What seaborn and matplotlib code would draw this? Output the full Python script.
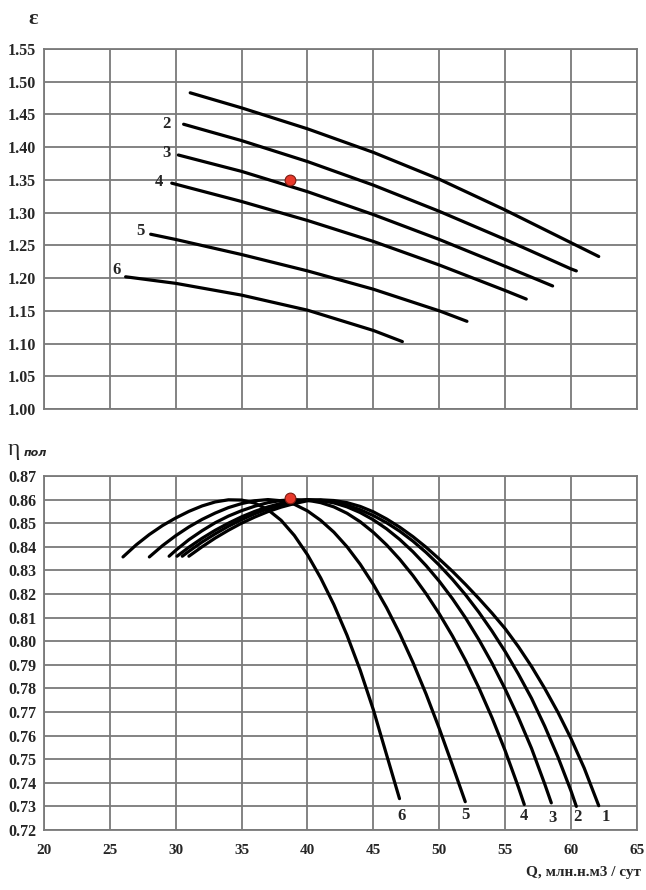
import numpy as np
import pandas as pd
import matplotlib
matplotlib.use("Agg")
import matplotlib.pyplot as plt
import seaborn as sns

# --- data ------------------------------------------------------------------
curve_ids = ["1", "2", "3", "4", "5", "6"]

# pressure ratio eps vs Q
eps_q = {
    "1": [31.1, 35, 40, 45, 50, 55, 60, 62.1],
    "2": [30.6, 35, 40, 45, 50, 55, 60, 60.4],
    "3": [30.2, 35, 40, 45, 50, 55, 58.6],
    "4": [29.7, 35, 40, 45, 50, 55, 56.6],
    "5": [28.1, 30, 35, 40, 45, 50, 52.1],
    "6": [26.2, 30, 35, 40, 45, 47.2],
}
eps_v = {
    "1": [1.483, 1.460, 1.428, 1.392, 1.351, 1.304, 1.254, 1.233],
    "2": [1.435, 1.410, 1.378, 1.342, 1.302, 1.259, 1.214, 1.211],
    "3": [1.388, 1.363, 1.332, 1.297, 1.259, 1.218, 1.188],
    "4": [1.345, 1.317, 1.288, 1.256, 1.220, 1.181, 1.168],
    "5": [1.267, 1.259, 1.236, 1.211, 1.183, 1.150, 1.134],
    "6": [1.202, 1.192, 1.174, 1.151, 1.120, 1.103],
}

# polytropic efficiency vs Q
eta_q = {
    "1": [31.0, 32, 33, 34, 35, 36, 37, 38, 39, 40, 41, 42, 43, 44, 45, 46, 47, 48, 49, 50,
          51, 52, 53, 54, 55, 56, 57, 58, 59, 60, 61, 62.1],
    "2": [30.5, 31, 32, 33, 34, 35, 36, 37, 38, 39, 40, 41, 42, 43, 44, 45, 46, 47, 48, 49,
          50, 51, 52, 53, 54, 55, 56, 57, 58, 59, 60, 60.4],
    "3": [30.1, 31, 32, 33, 34, 35, 36, 37, 38, 39, 40, 41, 42, 43, 44, 45, 46, 47, 48, 49,
          50, 51, 52, 53, 54, 55, 56, 57, 58, 58.5],
    "4": [29.5, 30, 31, 32, 33, 34, 35, 36, 37, 38, 39, 40, 41, 42, 43, 44, 45, 46, 47, 48,
          49, 50, 51, 52, 53, 54, 55, 56, 56.45],
    "5": [28.0, 29, 30, 31, 32, 33, 34, 35, 36, 37, 38, 39, 40, 41, 42, 43, 44, 45, 46, 47,
          48, 49, 50, 51, 51.97],
    "6": [26.0, 27, 28, 29, 30, 31, 32, 33, 34, 35, 36, 37, 38, 39, 40, 41, 42, 43, 44, 45,
          46, 46.98],
}
eta_v = {
    "1": [.836, .8400, .8437, .8470, .8500, .8526, .8549, .8568, .8583, .8595, .8599, .8596,
          .8587, .8571, .8548, .8518, .8483, .8443, .8398, .8348, .8296, .8240, .8181, .8119,
          .8053, .7977, .7893, .7800, .7699, .7587, .7462, .7303],
    "2": [.836, .8381, .8420, .8455, .8487, .8515, .8540, .8561, .8578, .8591, .8599, .8597,
          .8589, .8576, .8557, .8532, .8502, .8466, .8424, .8376, .8322, .8262, .8196, .8123,
          .8043, .7956, .7861, .7758, .7640, .7510, .7365, .7300],
    "3": [.836, .8398, .8436, .8470, .8500, .8527, .8550, .8569, .8584, .8594, .8600, .8596,
          .8586, .8569, .8545, .8514, .8476, .8431, .8379, .8320, .8254, .8180, .8098, .8007,
          .7907, .7797, .7677, .7546, .7395, .7315],
    "4": [.836, .8385, .8430, .8468, .8502, .8530, .8553, .8572, .8587, .8596, .8600, .8597,
          .8587, .8569, .8542, .8506, .8461, .8408, .8347, .8278, .8201, .8116, .8022, .7918,
          .7803, .7676, .7536, .7382, .7308],
    "5": [.8357, .8405, .8447, .8484, .8516, .8543, .8566, .8583, .8595, .8600, .8595, .8580,
          .8552, .8512, .8462, .8400, .8326, .8240, .8142, .8032, .7910, .7776, .7630, .7474,
          .7320],
    "6": [.8357, .8408, .8452, .8490, .8522, .8550, .8573, .8590, .8599, .8598, .8585, .8557,
          .8512, .8448, .8366, .8268, .8155, .8025, .7877, .7709, .7519, .7333],
}

# design point (red dot)
pt_q = [38.7]
pt_eps = [1.35]
pt_eta = [0.8605]

# curve-number labels
eps_lab_q = [29.3, 29.3, 28.7, 27.3, 25.5]
eps_lab_v = [1.436, 1.391, 1.347, 1.272, 1.212]
eps_lab_t = ["2", "3", "4", "5", "6"]
eta_lab_q = [62.6, 60.5, 58.6, 56.45, 52.0, 47.1]
eta_lab_v = [0.7255, 0.7255, 0.725, 0.7258, 0.7262, 0.7258]
eta_lab_t = ["1", "2", "3", "4", "5", "6"]

eps_ticks = [1.00, 1.05, 1.10, 1.15, 1.20, 1.25, 1.30, 1.35, 1.40, 1.45, 1.50, 1.55]
eta_ticks = [0.72, 0.73, 0.74, 0.75, 0.76, 0.77, 0.78, 0.79, 0.80, 0.81, 0.82, 0.83,
             0.84, 0.85, 0.86, 0.87]
q_ticks = [20, 25, 30, 35, 40, 45, 50, 55, 60, 65]

# ---------------------------------------------------------------------------
sns.set_theme(style="whitegrid")
plt.rcParams['font.family'] = ['Liberation Serif', 'DejaVu Serif']

fig = plt.figure(figsize=(6.46, 8.90), dpi=100)
ax1 = fig.add_axes([0.068, 0.5404, 0.918, 0.4046])
ax2 = fig.add_axes([0.068, 0.0674, 0.918, 0.3978])

rows_eps = []
rows_eta = []
for c in curve_ids:
    for q, v in zip(eps_q[c], eps_v[c]):
        rows_eps.append((c, q, v))
    for q, v in zip(eta_q[c], eta_v[c]):
        rows_eta.append((c, q, v))
df_eps = pd.DataFrame(rows_eps, columns=["curve", "Q", "val"])
df_eta = pd.DataFrame(rows_eta, columns=["curve", "Q", "val"])
pal = {c: "black" for c in curve_ids}

sns.lineplot(data=df_eps, x="Q", y="val", hue="curve", palette=pal, sort=False,
             linewidth=2.3, legend=False, ax=ax1, solid_joinstyle="round")
sns.lineplot(data=df_eta, x="Q", y="val", hue="curve", palette=pal, sort=False,
             linewidth=2.3, legend=False, ax=ax2, solid_joinstyle="round")
sns.scatterplot(x=pt_q, y=pt_eps, color="#e8392b", edgecolor="#7a1a10", s=60,
                linewidth=0.8, zorder=5, ax=ax1)
sns.scatterplot(x=pt_q, y=pt_eta, color="#e8392b", edgecolor="#7a1a10", s=60,
                linewidth=0.8, zorder=5, ax=ax2, clip_on=False)

for ax, ticks, lim in [(ax1, eps_ticks, (1.0, 1.55)), (ax2, eta_ticks, (0.72, 0.87))]:
    ax.set_xlim(20, 65)
    ax.set_ylim(*lim)
    ax.set_xticks(q_ticks)
    ax.set_yticks(ticks)
    ax.grid(True, color="#7a7a7a", linewidth=1.3)
    ax.set_axisbelow(True)
    for s in ax.spines.values():
        s.set_color("#7a7a7a")
        s.set_linewidth(1.3)
    ax.tick_params(axis="y", length=4, width=1.2, color="#555555", pad=1.5)
    ax.tick_params(axis="x", length=4, width=1.2, color="#555555", pad=6)
    ax.set_xlabel("")
    ax.set_ylabel("")

ax1.set_yticklabels([f"{t:.2f}" for t in eps_ticks])
ax1.set_xticklabels([])
ax1.tick_params(axis="x", length=0)
ax2.set_yticklabels([f"{t:.2f}" for t in eta_ticks])
ax2.set_xticklabels([str(t) for t in q_ticks])
for ax in (ax1, ax2):
    for lbl in ax.get_yticklabels():
        lbl.set_fontweight("bold")
        lbl.set_fontsize(11.5)
    for lbl in ax.get_xticklabels():
        lbl.set_fontweight("bold")
        lbl.set_fontsize(11)

for q, v, t in zip(eps_lab_q, eps_lab_v, eps_lab_t):
    ax1.text(q, v, t, fontsize=12, fontweight="bold", ha="center", va="center")
for q, v, t in zip(eta_lab_q, eta_lab_v, eta_lab_t):
    ax2.text(q, v, t, fontsize=12, fontweight="bold", ha="center", va="center")

fig.text(0.044, 0.979, "ε", fontsize=16, fontweight="bold", ha="left", va="center")
fig.text(0.012, 0.495, "η", fontsize=17, ha="left", va="center")
fig.text(0.036, 0.491, "пол", fontsize=8, fontweight="bold", fontstyle="italic",
         family=["DejaVu Sans"], ha="left", va="center")
fig.text(0.992, 0.020, "Q, млн.н.м3 / сут", fontsize=11, fontweight="bold",
         ha="right", va="center")

fig.savefig("out.png", dpi=100, facecolor="white")
